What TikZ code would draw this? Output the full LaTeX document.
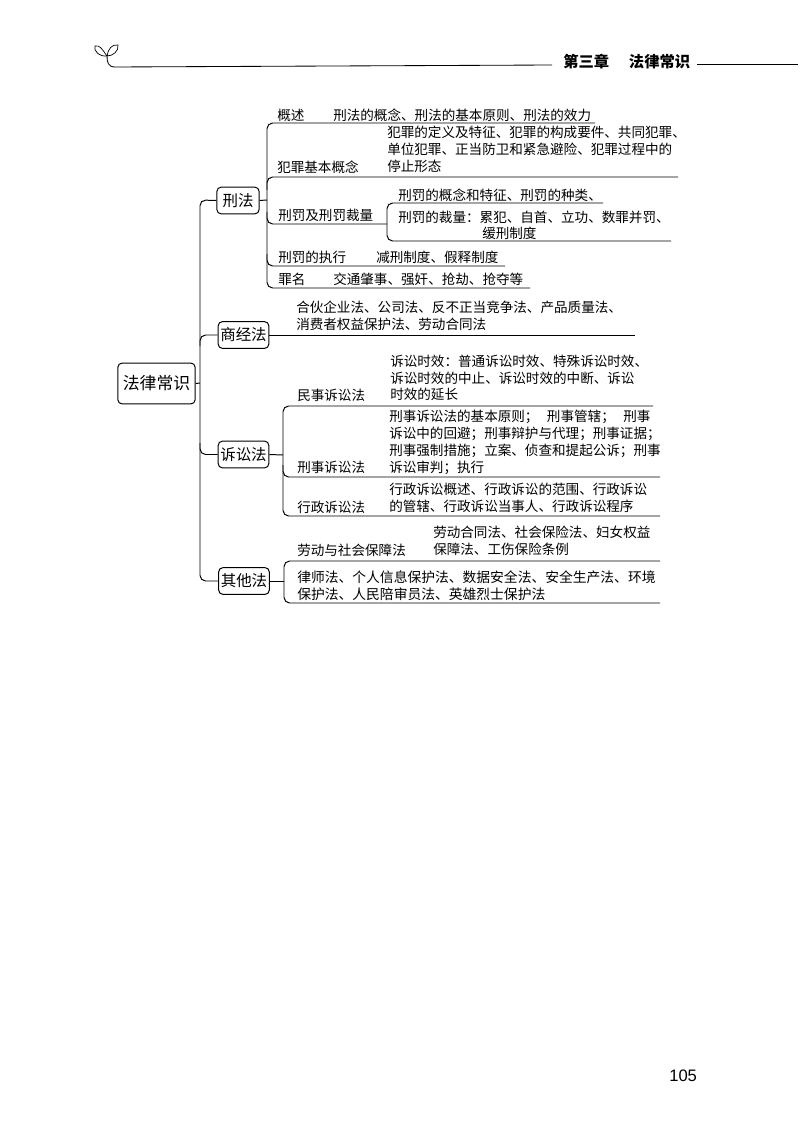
\documentclass[tikz,border=0pt]{standalone}
\usepackage{fontspec}
\setmainfont{Noto Sans CJK SC}
\newfontfamily\pagefont{Liberation Sans}
\usepackage{tikz}
\usepackage{color}
\tikzset{
	leaf/.style={anchor=west,inner sep=0pt,align=left,font=\fontsize{9.65pt}{12pt}\selectfont},
	topic/.style={draw=black,line width=0.7pt,rounded corners=3pt,inner sep=0pt,minimum height=19pt,font=\fontsize{11pt}{14pt}\selectfont},
	wire/.style={black,line width=0.7pt,rounded corners=4pt},
}
\begin{document}
\begin{tikzpicture}[x=0.025cm,y=0.025cm]
	\useasboundingbox (0,0) rectangle (800,-1142);
	\draw [black,line width=0.5pt] (107,-56) .. controls (102,-49) and (100,-45) .. (95,-46) .. controls (93,-50) and (99,-57) .. (107,-56);
	\draw [black,line width=0.5pt] (107,-56) .. controls (108,-49) and (112,-44) .. (118,-45) .. controls (119,-51) and (113,-56) .. (107,-56);
	\coordinate (headl) at (552,-65);
	\coordinate (headr) at (798,-64);
	\coordinate (headm) at (697,-64);
	\coordinate (sprout) at (107,-56);
	\draw [black,line width=0.6pt] (sprout) .. controls (107,-62) and (108,-67) .. (115,-67) -- (headl);
	\node [anchor=west,inner sep=0pt,font=\fontsize{10.9pt}{12pt}\bfseries\selectfont] (chapter) at (563,-62) {第三章\hspace{14pt}法律常识};
	\draw [black,line width=0.6pt] (headm) -- (headr);
	\node [anchor=west,inner sep=0pt,font=\fontsize{11.8pt}{14pt}\pagefont] (pagenum) at (669,-1076) {105};

	\node [topic,minimum width=55pt,minimum height=29pt,font=\fontsize{12pt}{14pt}\selectfont] (root) at (156.5,-383.5) {法律常识};
	\node [topic,minimum width=30pt] (xingfa) at (238,-200.5) {刑法};
	\node [topic,minimum width=36pt] (shangjing) at (243.5,-335) {商经法};
	\node [topic,minimum width=36pt] (susong) at (243.5,-454.5) {诉讼法};
	\node [topic,minimum width=36pt] (qita) at (244,-581) {其他法};

	\coordinate (spa) at (200,-200);
	\coordinate (spb) at (200,-346);
	\coordinate (spc) at (200,-443);
	\coordinate (spd) at (200,-581);
	\coordinate (sproot) at (200,-383);
	\draw [wire] (xingfa.west) -- (spa) -- (spd) -- (qita.west);
	\draw [wire] (spb) |- (shangjing.west);
	\draw [wire] (spc) |- (susong.west);
	\draw [wire] (root.east) -- (sproot);

	\node [leaf] (gaishu) at (277,-115) {概述};
	\node [leaf] (gaishutxt) at (333,-115) {刑法的概念、刑法的基本原则、刑法的效力};
	\node [leaf] (fanzui) at (277,-167) {犯罪基本概念};
	\node [leaf] (fanzuitxt) at (387,-149.5) {犯罪的定义及特征、犯罪的构成要件、共同犯罪、\\单位犯罪、正当防卫和紧急避险、犯罪过程中的\\停止形态};
	\node [leaf] (xingliang) at (278,-215) {刑罚及刑罚裁量};
	\node [leaf] (xingfatxt) at (398,-195) {刑罚的概念和特征、刑罚的种类、};
	\node [leaf] (cailiang) at (398,-217) {刑罚的裁量：累犯、自首、立功、数罪并罚、};
	\node [leaf] (huanxing) at (482,-233) {缓刑制度};
	\node [leaf] (zhixing) at (278,-257) {刑罚的执行};
	\node [leaf] (zhixingtxt) at (376,-257) {减刑制度、假释制度};
	\node [leaf] (zuiming) at (278,-279) {罪名};
	\node [leaf] (zuimingtxt) at (333,-279) {交通肇事、强奸、抢劫、抢夺等};

	\coordinate (xb) at (267,-200);
	\coordinate (xba) at (267,-123);
	\coordinate (xea) at (595,-123);
	\coordinate (xbb) at (267,-190);
	\coordinate (xeb) at (678,-177);
	\coordinate (xbc) at (267,-212);
	\coordinate (xec) at (387,-224);
	\coordinate (xbd) at (267,-254);
	\coordinate (xed) at (505,-266);
	\coordinate (xbe) at (267,-288);
	\coordinate (xee) at (530,-288);
	\coordinate (xua) at (387,-203);
	\coordinate (xub) at (387,-241);
	\coordinate (xfa) at (603,-203);
	\coordinate (xfb) at (671,-241);
	\draw [wire] (xingfa.east) -- (xb);
	\draw [wire] (xea) -- (xba) -- (xbe) -- (xee);
	\draw [wire] (xbb) |- (xeb);
	\draw [wire] (xbc) |- (xec);
	\draw [wire] (xbd) |- (xed);
	\draw [wire] (xfa) -- (xua) -- (xub) -- (xfb);

	\node [leaf] (shangjingtxt) at (296,-315.5) {合伙企业法、公司法、反不正当竞争法、产品质量法、\\消费者权益保护法、劳动合同法};
	\coordinate (shend) at (635,-335);
	\draw [wire] (shangjing.east) -- (shend);

	\node [leaf] (minshi) at (297,-395) {民事诉讼法};
	\node [leaf] (minshitxt) at (390,-378) {诉讼时效：普通诉讼时效、特殊诉讼时效、\\诉讼时效的中止、诉讼时效的中断、诉讼\\时效的延长};
	\node [leaf] (xingshi) at (297,-467) {刑事诉讼法};
	\node [leaf] (xingshitxt) at (389,-442.5) {刑事诉讼法的基本原则；\hspace{6pt}刑事管辖；\hspace{6pt}刑事\\诉讼中的回避；刑事辩护与代理；刑事证据；\\刑事强制措施；立案、侦查和提起公诉；刑事\\诉讼审判；执行};
	\node [leaf] (xingzheng) at (297,-507) {行政诉讼法};
	\node [leaf] (xingzhengtxt) at (389,-498) {行政诉讼概述、行政诉讼的范围、行政诉讼\\的管辖、行政诉讼当事人、行政诉讼程序};

	\coordinate (sb) at (283,-455);
	\coordinate (sba) at (283,-406);
	\coordinate (sea) at (653,-406);
	\coordinate (sbb) at (283,-465);
	\coordinate (seb) at (660,-477);
	\coordinate (sbc) at (283,-516);
	\coordinate (sec) at (660,-516);
	\draw [wire] (susong.east) -- (sb);
	\draw [wire] (sea) -- (sba) -- (sbc) -- (sec);
	\draw [wire] (sbb) |- (seb);

	\node [leaf] (laodong) at (297,-550) {劳动与社会保障法};
	\node [leaf] (laodongtxt) at (433,-540.5) {劳动合同法、社会保险法、妇女权益\\保障法、工伤保险条例};
	\node [leaf,font=\fontsize{9.8pt}{12pt}\selectfont] (lvshi) at (297,-585.5) {律师法、个人信息保护法、数据安全法、安全生产法、环境\\保护法、人民陪审员法、英雄烈士保护法};

	\coordinate (qb) at (284,-581);
	\coordinate (qba) at (284,-561);
	\coordinate (qea) at (660,-561);
	\coordinate (qbb) at (284,-603);
	\coordinate (qeb) at (660,-603);
	\draw [wire] (qita.east) -- (qb);
	\draw [wire] (qea) -- (qba) -- (qbb) -- (qeb);
\end{tikzpicture}
\end{document}
